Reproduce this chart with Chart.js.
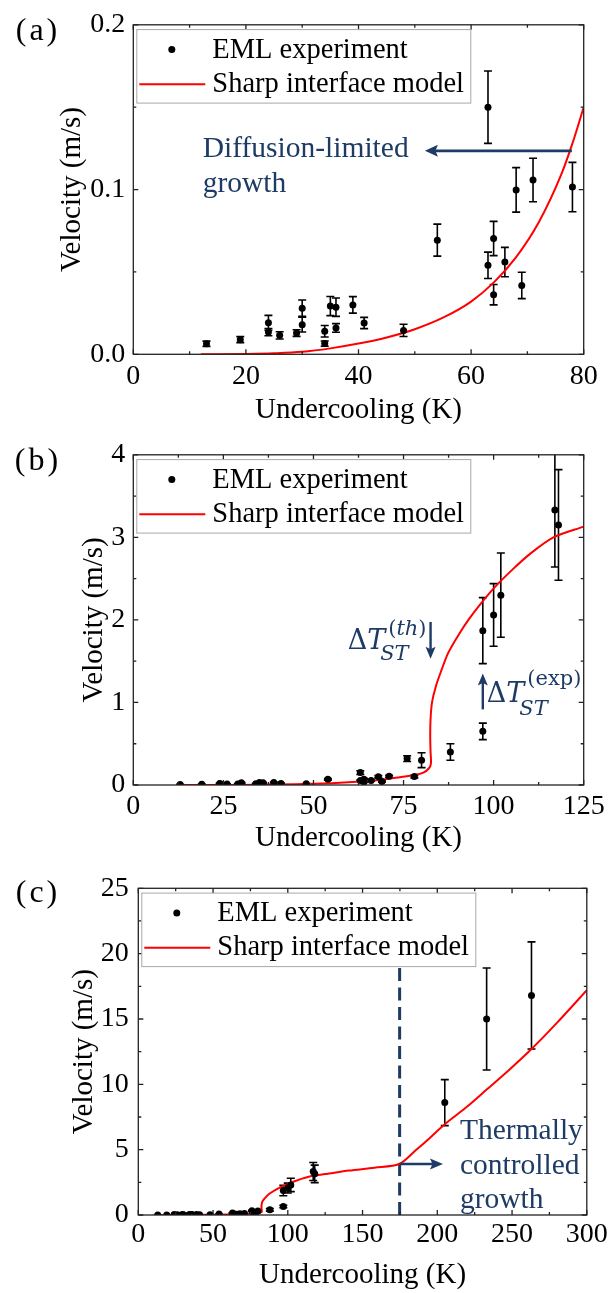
<!DOCTYPE html>
<html>
<head>
<meta charset="utf-8">
<script src="https://cdn.jsdelivr.net/npm/chart.js@4.4.1/dist/chart.umd.min.js"></script>
<style>
  html, body { margin: 0; padding: 0; background: #fff; }
  #wrap { position: relative; width: 611px; height: 1293px; }
  canvas { position: absolute; left: 0; }
</style>
</head>
<body>
<div id="wrap">
  <canvas id="panelA" width="611" height="430" style="top:0px"></canvas>
  <canvas id="panelB" width="611" height="432" style="top:430px"></canvas>
  <canvas id="panelC" width="611" height="431" style="top:862px"></canvas>
</div>
<script>
const FONT = "'Liberation Serif', 'Times New Roman', serif";
const MATH = "'DejaVu Serif', serif";
const NAVY = "#1d3b64";
const RED = "#ff0000";

// EML experiment points shown in all three panels
const undercoolA = [13, 19, 24, 24, 26, 29, 30, 30, 34, 34, 35, 36, 36, 39, 41, 48, 54, 63, 63, 64, 64, 66, 68, 69, 71, 78];
const velocityA = [0.0064, 0.0089, 0.0191, 0.0135, 0.0115, 0.0129, 0.0280, 0.0180, 0.0140, 0.0065, 0.0293, 0.0286, 0.0160, 0.0300, 0.0190, 0.0145, 0.0693, 0.1500, 0.0540, 0.0703, 0.0362, 0.0560, 0.0998, 0.0418, 0.1058, 0.1015];
const errorA = [0.0016, 0.0018, 0.0045, 0.0022, 0.0022, 0.002, 0.005, 0.0045, 0.0035, 0.0016, 0.0058, 0.0056, 0.0026, 0.005, 0.0034, 0.0037, 0.0097, 0.022, 0.008, 0.0104, 0.0062, 0.0089, 0.0135, 0.008, 0.0132, 0.015];

// extra points from panel (b) on
const undercoolB = [76, 80, 88, 97, 97, 100, 102, 117, 118];
const velocityB = [0.32, 0.30, 0.40, 0.65, 1.87, 2.06, 2.30, 3.33, 3.15];
const errorB = [0.035, 0.09, 0.1, 0.1, 0.4, 0.38, 0.51, 0.69, 0.67];

// extra points in panel (c)
const undercoolC = [205, 233, 263];
const velocityC = [8.6, 15.0, 16.8];
const errorC = [1.76, 3.9, 4.1];

// sharp interface model
const modelKA = [12, 20, 25, 30, 35, 40, 45, 50, 55, 60, 64, 68, 72, 76, 78, 80];
const modelVA = [0, 0.0002, 0.0006, 0.0015, 0.0036, 0.0065, 0.0102, 0.0152, 0.0222, 0.032, 0.0435, 0.059, 0.080, 0.109, 0.128, 0.150];
const modelKB = [12, 30, 45, 55, 62, 68, 74, 78, 80.5, 82, 82.6, 82.5, 82.4, 82.5, 82.9, 84, 85.6, 87.4, 90, 93, 96.5, 100.4, 105, 110.1, 116.6, 125];
const modelVB = [0, 0.0012, 0.0105, 0.0225, 0.038, 0.059, 0.094, 0.12, 0.15, 0.2, 0.26, 0.4, 0.6, 0.8, 1.0, 1.2, 1.4, 1.6, 1.8, 2.0, 2.2, 2.4, 2.6, 2.8, 3.0, 3.13];
const modelKC = [141, 158, 174.5, 185, 195, 205, 220, 233, 248, 263, 280, 300];
const modelVC = [3.40, 3.62, 3.9, 4.9, 5.9, 6.95, 8.3, 9.6, 11.1, 12.7, 14.7, 17.2];

// annotations (data coordinates)
const arrowA = [77.9, 51.8, 0.1235];     // from K, to K, at V
const arrowThB = [82.5, 1.975, 1.53];    // at K, from V, to V
const arrowExpB = [97, 0.916, 1.35];
const arrowC = [174.8, 203.8, 3.9];
const dashedC = [174.8, 0, 19.3];        // K, V bottom, V top
const noteA = ["Diffusion-limited", "growth"];
const noteC = ["Thermally", "controlled", "growth"];

const seriesLabels = ["EML experiment", "Sharp interface model"];
const panelTags = ["(a)", "(b)", "(c)"];
const xTitle = "Undercooling (K)";
const yTitle = "Velocity (m/s)";

function toPoints(xs, ys, errs) {
  return xs.map((x, i) => ({ x: x, y: ys[i], err: errs ? errs[i] : 0 }));
}

function drawArrow(ctx, x1, y1, x2, y2, width, headLen, headHalf) {
  const ang = Math.atan2(y2 - y1, x2 - x1);
  const c = Math.cos(ang), s = Math.sin(ang);
  const bx = x2 - headLen * c, by = y2 - headLen * s;
  ctx.save();
  ctx.strokeStyle = NAVY; ctx.fillStyle = NAVY; ctx.lineWidth = width;
  ctx.beginPath(); ctx.moveTo(x1, y1); ctx.lineTo(bx + 3 * c, by + 3 * s); ctx.stroke();
  ctx.beginPath();
  ctx.moveTo(x2, y2);
  ctx.lineTo(bx - headHalf * s, by + headHalf * c);
  ctx.lineTo(bx + 2.5 * c, by + 2.5 * s);
  ctx.lineTo(bx + headHalf * s, by - headHalf * c);
  ctx.closePath(); ctx.fill();
  ctx.restore();
}

function runsWidth(ctx, runs) {
  let w = 0;
  runs.forEach(r => { ctx.font = r[1]; w += ctx.measureText(r[0]).width; });
  return w;
}
function drawRuns(ctx, runs, x, y) {
  runs.forEach(r => { ctx.font = r[1]; ctx.fillText(r[0], x, y); x += ctx.measureText(r[0]).width; });
}

const errorBars = {
  id: 'errorBars',
  beforeDatasetsDraw(chart) {
    const { ctx, chartArea: a, scales: { x, y } } = chart;
    ctx.save();
    ctx.beginPath(); ctx.rect(a.left, a.top, a.right - a.left, a.bottom - a.top); ctx.clip();
    ctx.strokeStyle = '#000'; ctx.lineWidth = 1.6;
    chart.data.datasets[0].data.forEach(p => {
      if (!p.err) return;
      const px = x.getPixelForValue(p.x);
      const t = y.getPixelForValue(p.y + p.err), b = y.getPixelForValue(p.y - p.err);
      ctx.beginPath();
      ctx.moveTo(px, t); ctx.lineTo(px, b);
      ctx.moveTo(px - 4, t); ctx.lineTo(px + 4, t);
      ctx.moveTo(px - 4, b); ctx.lineTo(px + 4, b);
      ctx.stroke();
    });
    ctx.restore();
  }
};

// box with inward ticks on all four sides
const frame = {
  id: 'frame',
  afterDraw(chart) {
    const { ctx, chartArea: a, scales: { x, y } } = chart;
    const minors = vals => vals.slice(1).map((v, i) => (v + vals[i]) / 2);
    const xt = x.ticks.map(t => t.value), yt = y.ticks.map(t => t.value);
    ctx.save();
    ctx.strokeStyle = '#222'; ctx.lineWidth = 1.3;
    ctx.beginPath();
    [[xt, 5], [minors(xt), 3]].forEach(([vals, len]) => vals.forEach(v => {
      const p = x.getPixelForValue(v);
      ctx.moveTo(p, a.bottom); ctx.lineTo(p, a.bottom - len);
      ctx.moveTo(p, a.top); ctx.lineTo(p, a.top + len);
    }));
    [[yt, 5], [minors(yt), 3]].forEach(([vals, len]) => vals.forEach(v => {
      const p = y.getPixelForValue(v);
      ctx.moveTo(a.left, p); ctx.lineTo(a.left + len, p);
      ctx.moveTo(a.right, p); ctx.lineTo(a.right - len, p);
    }));
    ctx.stroke();
    ctx.strokeRect(a.left, a.top, a.right - a.left, a.bottom - a.top);
    ctx.restore();
  }
};

const legendBox = {
  id: 'legendBox',
  afterDraw(chart) {
    const { ctx, chartArea: a } = chart;
    const ds = chart.data.datasets;
    ctx.save();
    ctx.fillStyle = '#fff';
    ctx.fillRect(a.left + 3.5, a.top + 4.8, 334, 73.5);
    ctx.strokeStyle = '#a8a8a8'; ctx.lineWidth = 1;
    ctx.strokeRect(a.left + 3.5, a.top + 4.8, 334, 73.5);
    ctx.fillStyle = ds[0].backgroundColor;
    ctx.beginPath(); ctx.arc(a.left + 38.5, a.top + 24.6, 3.5, 0, Math.PI * 2); ctx.fill();
    ctx.strokeStyle = ds[1].borderColor; ctx.lineWidth = 2;
    ctx.beginPath(); ctx.moveTo(a.left + 6, a.top + 59.5); ctx.lineTo(a.left + 72, a.top + 59.5); ctx.stroke();
    ctx.fillStyle = '#000'; ctx.font = `28.5px ${FONT}`;
    ctx.textAlign = 'left'; ctx.textBaseline = 'middle';
    ctx.fillText(ds[0].label, a.left + 79, a.top + 25.3);
    ctx.fillText(ds[1].label, a.left + 79, a.top + 59.5);
    ctx.restore();
  }
};

function panelTag(text) {
  return {
    id: 'panelTag',
    afterDraw(chart) {
      const ctx = chart.ctx;
      ctx.save();
      ctx.font = `32px ${FONT}`; ctx.fillStyle = '#000';
      ctx.letterSpacing = '3px';
      ctx.textAlign = 'center'; ctx.textBaseline = 'middle';
      ctx.fillText(text, 38, 32);
      ctx.restore();
    }
  };
}

const annotateA = {
  id: 'annotateA',
  afterDraw(chart) {
    const { ctx, chartArea: a, scales: { x, y } } = chart;
    const yy = y.getPixelForValue(arrowA[2]);
    drawArrow(ctx, x.getPixelForValue(arrowA[0]), yy, x.getPixelForValue(arrowA[1]), yy, 2.7, 13, 6);
    ctx.save();
    ctx.font = `29.5px ${FONT}`; ctx.fillStyle = NAVY; ctx.textBaseline = 'alphabetic';
    ctx.fillText(noteA[0], a.left + 69.4, yy + 5.7);
    ctx.fillText(noteA[1], a.left + 69.4, yy + 40.7);
    ctx.restore();
  }
};

const annotateB = {
  id: 'annotateB',
  afterDraw(chart) {
    const { ctx, scales: { x, y } } = chart;
    const up = `27px ${MATH}`, it = `italic 27px ${MATH}`, up2 = `21px ${MATH}`, it2 = `italic 21px ${MATH}`;
    const main = [["Δ", up], ["T", it]];
    const sub = [["ST", it2]];
    ctx.save();
    ctx.fillStyle = NAVY; ctx.textBaseline = 'alphabetic';

    // theoretical threshold, arrow down
    const ax = x.getPixelForValue(arrowThB[0]);
    const top = y.getPixelForValue(arrowThB[1]);
    drawArrow(ctx, ax, top, ax, y.getPixelForValue(arrowThB[2]), 2.4, 12, 5);
    const supTh = [["(", up2], ["th", it2], [")", up2]];
    const mw = runsWidth(ctx, main), sw = runsWidth(ctx, supTh);
    const l1 = ax - 4 - sw - 3 - mw;
    drawRuns(ctx, main, l1, top + 27.3);
    drawRuns(ctx, supTh, l1 + mw + 3, top + 13.3);
    drawRuns(ctx, sub, l1 + mw - 5, top + 38.3);

    // experimental threshold, arrow up
    const bx = x.getPixelForValue(arrowExpB[0]);
    const bot = y.getPixelForValue(arrowExpB[1]);
    drawArrow(ctx, bx, bot, bx, y.getPixelForValue(arrowExpB[2]), 2.4, 12, 5);
    const supExp = [["(exp)", up2]];
    const l2 = bx + 4;
    drawRuns(ctx, main, l2, bot - 7.3);
    drawRuns(ctx, supExp, l2 + mw + 3, bot - 24.3);
    drawRuns(ctx, sub, l2 + mw - 5, bot + 5.7);
    ctx.restore();
  }
};

const annotateC = {
  id: 'annotateC',
  afterDraw(chart) {
    const { ctx, scales: { x, y } } = chart;
    const yy = y.getPixelForValue(arrowC[2]);
    const tip = x.getPixelForValue(arrowC[1]);
    drawArrow(ctx, x.getPixelForValue(arrowC[0]), yy, tip, yy, 2.4, 13, 5.5);
    ctx.save();
    ctx.font = `29.5px ${FONT}`; ctx.fillStyle = NAVY; ctx.textBaseline = 'alphabetic';
    ctx.fillText(noteC[0], tip + 17, yy - 25.3);
    ctx.fillText(noteC[1], tip + 17, yy + 9.7);
    ctx.fillText(noteC[2], tip + 17, yy + 44.3);
    ctx.restore();
  }
};

function makePanel(id, cfg) {
  const datasets = [
    { label: seriesLabels[0], data: cfg.points, showLine: false, backgroundColor: '#000', borderColor: '#000',
      borderWidth: 0, pointRadius: 3.5, pointHoverRadius: 3.5 },
    Object.assign({ label: seriesLabels[1], data: cfg.model, showLine: true, borderColor: RED, backgroundColor: RED,
      borderWidth: 2, pointRadius: 0, fill: false }, cfg.curve)
  ].concat(cfg.extra || []);
  return new Chart(document.getElementById(id), {
    type: 'scatter',
    data: { datasets: datasets },
    options: {
      responsive: false,
      animation: false,
      events: [],
      layout: { padding: { top: cfg.padTop, right: cfg.padRight, left: 0, bottom: 0 } },
      plugins: { legend: { display: false }, tooltip: { enabled: false } },
      scales: {
        x: {
          type: 'linear', min: cfg.xMin, max: cfg.xMax,
          grid: { display: false, drawTicks: false }, border: { display: false },
          ticks: { stepSize: cfg.xStep, autoSkip: false, maxRotation: 0, padding: cfg.xTickPad,
                   color: '#000', font: { family: FONT, size: 28 } },
          title: { display: true, text: xTitle, color: '#000', font: { family: FONT, size: 29 },
                   padding: { top: 0, bottom: cfg.xTitlePad } },
          afterFit: s => { s.height = cfg.xAxisH; }
        },
        y: {
          type: 'linear', min: cfg.yMin, max: cfg.yMax,
          grid: { display: false, drawTicks: false }, border: { display: false },
          ticks: { stepSize: cfg.yStep, padding: cfg.yTickPad, color: '#000', font: { family: FONT, size: 28 },
                   callback: cfg.yFormat || (v => v) },
          title: { display: true, text: yTitle, color: '#000', font: { family: FONT, size: 29 },
                   padding: { top: cfg.yTitlePad, bottom: 0 } },
          afterFit: s => { s.width = cfg.yAxisW; }
        }
      }
    },
    plugins: [errorBars, frame, legendBox, cfg.annotate, panelTag(cfg.tag)]
  });
}

const pointsA = toPoints(undercoolA, velocityA, errorA);
const pointsB = pointsA.concat(toPoints(undercoolB, velocityB, errorB));
const pointsC = pointsB.concat(toPoints(undercoolC, velocityC, errorC));

makePanel('panelA', {
  tag: panelTags[0], points: pointsA, model: toPoints(modelKA, modelVA),
  curve: { cubicInterpolationMode: 'monotone' },
  xMin: 0, xMax: 80, xStep: 20, yMin: 0, yMax: 0.2, yStep: 0.1, yFormat: v => v.toFixed(1),
  padTop: 24.7, padRight: 27.3, yAxisW: 133.3, xAxisH: 75.7,
  xTickPad: 5.6, xTitlePad: 2.6, yTickPad: 8, yTitlePad: 54.6,
  annotate: annotateA
});

makePanel('panelB', {
  tag: panelTags[1], points: pointsB, model: toPoints(modelKB, modelVB),
  curve: { tension: 0.3 },
  xMin: 0, xMax: 125, xStep: 25, yMin: 0, yMax: 4, yStep: 1,
  padTop: 24.3, padRight: 27.3, yAxisW: 133.3, xAxisH: 77,
  xTickPad: 4.7, xTitlePad: 6.6, yTickPad: 8, yTitlePad: 76.6,
  annotate: annotateB
});

makePanel('panelC', {
  tag: panelTags[2], points: pointsC, model: toPoints(modelKB.concat(modelKC), modelVB.concat(modelVC)),
  curve: { tension: 0.3 },
  xMin: 0, xMax: 300, xStep: 50, yMin: 0, yMax: 25, yStep: 5,
  padTop: 22.3, padRight: 22.7, yAxisW: 138.3, xAxisH: 78,
  xTickPad: 3.2, xTitlePad: 0, yTickPad: 9.5, yTitlePad: 66.6,
  annotate: annotateC,
  extra: [{ label: 'boundary', data: [{ x: dashedC[0], y: dashedC[1] }, { x: dashedC[0], y: dashedC[2] }],
            showLine: true, borderColor: NAVY, borderWidth: 3, borderDash: [13, 6.5], pointRadius: 0, fill: false }]
});
</script>
</body>
</html>
